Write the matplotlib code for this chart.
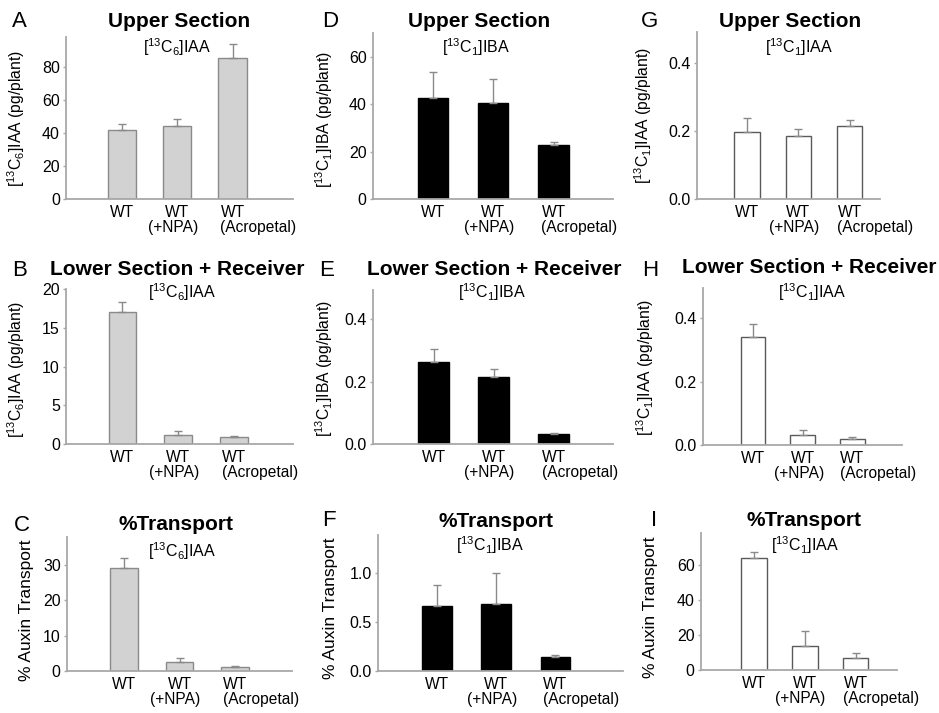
import matplotlib
matplotlib.use("Agg")
import matplotlib.pyplot as plt
import numpy as np

plt.rcParams['font.family'] = ['Liberation Sans', 'DejaVu Sans']
plt.rcParams['mathtext.fontset'] = 'custom'
plt.rcParams['mathtext.rm'] = 'Liberation Sans'
plt.rcParams['mathtext.it'] = 'Liberation Sans:italic'
plt.rcParams['mathtext.bf'] = 'Liberation Sans:bold'

# ---------------- data ----------------
categories = ["WT", "WT", "WT"]
second_lines = ["", "(+NPA)", "(Acropetal)"]

A_vals = [41.7, 44.1, 85.0];   A_err = [3.4, 4.1, 8.5]
D_vals = [42.7, 40.3, 22.8];   D_err = [11.0, 10.1, 1.4]
G_vals = [0.197, 0.184, 0.214]; G_err = [0.041, 0.022, 0.017]
B_vals = [17.0, 1.16, 0.94];   B_err = [1.3, 0.55, 0.17]
E_vals = [0.262, 0.216, 0.034]; E_err = [0.044, 0.024, 0.003]
H_vals = [0.342, 0.031, 0.019]; H_err = [0.039, 0.016, 0.007]
C_vals = [29.1, 2.64, 1.04];   C_err = [3.0, 1.13, 0.26]
F_vals = [0.665, 0.686, 0.146]; F_err = [0.215, 0.314, 0.018]
I_vals = [64.2, 14.1, 6.9];    I_err = [3.8, 8.6, 3.2]

A_ticks = [0, 20, 40, 60, 80]
D_ticks = [0, 20, 40, 60]
G_ticks = [0.0, 0.2, 0.4]
B_ticks = [0, 5, 10, 15, 20]
E_ticks = [0.0, 0.2, 0.4]
H_ticks = [0.0, 0.2, 0.4]
C_ticks = [0, 10, 20, 30]
F_ticks = [0.0, 0.5, 1.0]
I_ticks = [0, 20, 40, 60]

W, H = 939, 713
fig = plt.figure(figsize=(W / 100, H / 100), dpi=100)

def rect(l, t, r, b):
    return [l / W, 1 - b / H, (r - l) / W, (b - t) / H]

def fx(x):
    return x / W

def fy(y):
    return 1 - y / H

styles = {
    'gray': dict(fc='#d2d2d2', ec='#8a8a8a', ecolor='#8a8a8a'),
    'black': dict(fc='#000000', ec='#000000', ecolor='#8a8a8a'),
    'white': dict(fc='#ffffff', ec='#5a5a5a', ecolor='#8a8a8a'),
}

panels = [
    dict(L='A', v=A_vals, e=A_err, t=A_ticks, f='%d', yl=98, xl=(-1.014, 3.095), bw=0.51, s='gray',
         r=(66, 37, 293, 199), ti='Upper Section', tp=(179, 27), su='[$^{13}$C$_6$]IAA', sp=(177, 53),
         yt='[$^{13}$C$_6$]IAA (pg/plant)', yp=(16, 118), ys=11.3, lp=(12, 11)),
    dict(L='D', v=D_vals, e=D_err, t=D_ticks, f='%d', yl=70, xl=(-1.0, 2.988), bw=0.50, s='black',
         r=(373, 33, 613, 199), ti='Upper Section', tp=(479, 27), su='[$^{13}$C$_1$]IBA', sp=(476, 53),
         yt='[$^{13}$C$_1$]IBA (pg/plant)', yp=(324, 119), ys=11.3, lp=(322, 11)),
    dict(L='G', v=G_vals, e=G_err, t=G_ticks, f='%.1f', yl=0.49, xl=(-0.976, 2.595), bw=0.49, s='white',
         r=(697, 32, 880, 199.3), ti='Upper Section', tp=(790, 27), su='[$^{13}$C$_1$]IAA', sp=(799, 53),
         yt='[$^{13}$C$_1$]IAA (pg/plant)', yp=(643, 115), ys=11.3, lp=(641, 11)),
    dict(L='B', v=B_vals, e=B_err, t=B_ticks, f='%d', yl=20, xl=(-1.013, 3.058), bw=0.50, s='gray',
         r=(66, 289, 293, 444.3), ti='Lower Section + Receiver', tp=(177, 275), su='[$^{13}$C$_6$]IAA', sp=(182, 298),
         yt='[$^{13}$C$_6$]IAA (pg/plant)', yp=(16, 369), ys=11.3, lp=(12, 260)),
    dict(L='E', v=E_vals, e=E_err, t=E_ticks, f='%.1f', yl=0.494, xl=(-1.008, 2.99), bw=0.52, s='black',
         r=(373, 290, 613, 444.3), ti='Lower Section + Receiver', tp=(494, 275), su='[$^{13}$C$_1$]IBA', sp=(492, 298),
         yt='[$^{13}$C$_1$]IBA (pg/plant)', yp=(324, 368), ys=11.3, lp=(319, 260)),
    dict(L='H', v=H_vals, e=H_err, t=H_ticks, f='%.1f', yl=0.495, xl=(-1.005, 2.995), bw=0.50, s='white',
         r=(703, 288, 902, 445), ti='Lower Section + Receiver', tp=(809, 273), su='[$^{13}$C$_1$]IAA', sp=(812, 298),
         yt='[$^{13}$C$_1$]IAA (pg/plant)', yp=(645, 367), ys=11.3, lp=(642, 260)),
    dict(L='C', v=C_vals, e=C_err, t=C_ticks, f='%d', yl=38, xl=(-1.027, 3.027), bw=0.50, s='gray',
         r=(67, 537, 292, 671), ti='%Transport', tp=(176, 530), su='[$^{13}$C$_6$]IAA', sp=(182, 557),
         yt='% Auxin Transport', yp=(27, 610), ys=12.5, lp=(14, 515)),
    dict(L='F', v=F_vals, e=F_err, t=F_ticks, f='%.1f', yl=1.39, xl=(-0.996, 3.14), bw=0.50, s='black',
         r=(378, 535, 623, 671), ti='%Transport', tp=(496, 527), su='[$^{13}$C$_1$]IBA', sp=(490, 551),
         yt='% Auxin Transport', yp=(331, 608), ys=12.5, lp=(322, 510)),
    dict(L='I', v=I_vals, e=I_err, t=I_ticks, f='%d', yl=78.6, xl=(-1.035, 2.815), bw=0.51, s='white',
         r=(701, 533, 897, 670.3), ti='%Transport', tp=(804, 526), su='[$^{13}$C$_1$]IAA', sp=(805, 551),
         yt='% Auxin Transport', yp=(650, 607), ys=12.5, lp=(651, 510)),
]

second_dx = [0, -4, 26]  # px offsets of second-line labels

for p in panels:
    ax = fig.add_axes(rect(*p['r']))
    st = styles[p['s']]
    x = np.arange(len(categories))
    ax.bar(x, p['v'], width=p['bw'], color=st['fc'], edgecolor=st['ec'], linewidth=1.0, zorder=2)
    ax.errorbar(x, p['v'], yerr=[np.zeros(len(x)), p['e']], fmt='none', ecolor=st['ecolor'],
                elinewidth=1.0, capsize=3, capthick=1.0, zorder=3)
    ax.set_xlim(*p['xl'])
    ax.set_ylim(0, p['yl'])
    ax.set_yticks(p['t'])
    ax.set_yticklabels([p['f'] % t for t in p['t']])
    ax.set_xticks(x)
    ax.set_xticklabels(categories)
    for sp in ['top', 'right']:
        ax.spines[sp].set_visible(False)
    for sp in ['left', 'bottom']:
        ax.spines[sp].set_color('#a8a8a8')
        ax.spines[sp].set_linewidth(1.3)
    ax.tick_params(axis='y', length=2.5, width=1, color='#a8a8a8', labelsize=11.5, pad=2)
    ax.tick_params(axis='x', length=0, labelsize=11.2, pad=4)
    for i, s2 in enumerate(second_lines):
        if s2:
            ax.annotate(s2, xy=(x[i], 0), xycoords=('data', 'axes fraction'),
                        xytext=(second_dx[i] * 0.72, -21 * 0.72), textcoords='offset points',
                        ha='center', va='top', fontsize=11.2)
    fig.text(fx(p['tp'][0]), fy(p['tp'][1]), p['ti'], ha='center', va='baseline',
             fontsize=15, fontweight='bold')
    fig.text(fx(p['sp'][0]), fy(p['sp'][1]), p['su'], ha='center', va='baseline', fontsize=11.5)
    fig.text(fx(p['yp'][0]), fy(p['yp'][1]), p['yt'], ha='center', va='center', rotation=90,
             fontsize=p['ys'])
    fig.text(fx(p['lp'][0]), fy(p['lp'][1]), p['L'], ha='left', va='top', fontsize=16)

fig.savefig('out.png', dpi=100)
